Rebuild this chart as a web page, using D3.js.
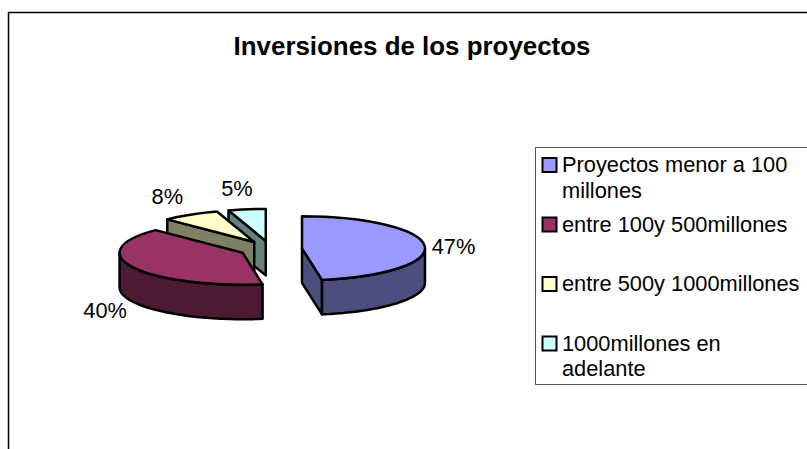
<!DOCTYPE html>
<html>
<head>
<meta charset="utf-8">
<script src="https://d3js.org/d3.v7.min.js"></script>
<style>
  html, body { margin: 0; padding: 0; background: #fff; }
  svg { display: block; font-family: "Liberation Sans", Arial, sans-serif; }
</style>
</head>
<body>
<div id="chart"></div>
<script>
// chart data
const categories = [
  "Proyectos menor a 100 millones",
  "entre 100y 500millones",
  "entre 500y 1000millones",
  "1000millones en adelante"
];
// printed as whole percents, the slice angles show the decimals
const values = [47.4, 40.1, 7.6, 4.9];
const colors = ["#9999FF", "#993366", "#FFFFCC", "#CCFFFF"];
const wallColors = ["#4D4D80", "#4D1A33", "#808066", "#668080"];
const legendLines = [
  ["Proyectos menor a 100", "millones"],
  ["entre 100y 500millones"],
  ["entre 500y 1000millones"],
  ["1000millones en", "adelante"]
];

const width = 807;
const height = 449;

// pie geometry, tilted ellipse
const cx = 270.6;
const cy = 249;
const rx = 123;
const ry = 32;
const depth = 34.5;
const explode = 31.5;

// label offsets from the rim point of each slice
const labelNudge = [[29, 8], [-28, 51], [-23, -11], [-10, -13]];
// legend row centres
const legendRowY = [164, 223.5, 283, 342.5];

const svg = d3
  .select("#chart")
  .append("svg")
  .attr("width", width)
  .attr("height", height);

//frame
svg
  .append("path")
  .attr("d", `M8.5,${height} V12.5 H${width}`)
  .attr("fill", "none")
  .attr("stroke", "#000")
  .attr("stroke-width", 1.5);

svg
  .append("text")
  .attr("x", 412)
  .attr("y", 55)
  .attr("text-anchor", "middle")
  .attr("font-weight", "bold")
  .attr("font-size", 25.9)
  .text("Inversiones de los proyectos");

//slices
const pie = d3.pie().sort(null).value((d) => d);
const slices = pie(values);
const arc = d3.arc().innerRadius(0).outerRadius(rx);

function center(d) {
  const mid = (d.startAngle + d.endAngle) / 2;
  return [
    cx + explode * Math.sin(mid),
    cy - (explode * Math.cos(mid) * ry) / rx
  ];
}

function rimPoint(c, a) {
  return [c[0] + rx * Math.sin(a), c[1] - ry * Math.cos(a)];
}

const line = d3.line();

// draw back to front: the last slices sit behind the first
const drawOrder = d3.range(slices.length).reverse();

drawOrder.forEach(function (i) {
  const d = slices[i];
  const c = center(d);
  const group = svg.append("g");

  const wallAttrs = (sel) =>
    sel
      .attr("fill", wallColors[i])
      .attr("stroke", "#000")
      .attr("stroke-width", 2.5)
      .attr("stroke-linejoin", "round");

  // cut face on the start side, only seen on the back slices
  if (Math.cos(d.startAngle) > 0 && Math.sin(d.startAngle) < 0) {
    const p = rimPoint(c, d.startAngle);
    group
      .append("path")
      .attr("d", line([p, c, [c[0], c[1] + depth], [p[0], p[1] + depth]]) + "Z")
      .call(wallAttrs);
  }

  // cut face on the end side, only seen on the blue slice
  if (d.endAngle < Math.PI && Math.cos(d.endAngle) < 0) {
    const p = rimPoint(c, d.endAngle);
    group
      .append("path")
      .attr("d", line([c, p, [p[0], p[1] + depth], [c[0], c[1] + depth]]) + "Z")
      .call(wallAttrs);
  }

  // outer wall, front half of the ellipse only
  const a0 = Math.max(d.startAngle, Math.PI / 2);
  const a1 = Math.min(d.endAngle, (3 * Math.PI) / 2);
  if (a1 > a0) {
    const top = d3.range(0, 61).map((t) => rimPoint(c, a0 + ((a1 - a0) * t) / 60));
    const bottom = top.map((p) => [p[0], p[1] + depth]).reverse();
    group
      .append("path")
      .attr("d", line(top.concat(bottom)) + "Z")
      .call(wallAttrs);
  }

  // top face
  group
    .append("path")
    .attr("d", arc(d))
    .attr("transform", `translate(${c[0]},${c[1]}) scale(1,${ry / rx})`)
    .attr("fill", colors[i])
    .attr("stroke", "#000")
    .attr("stroke-width", 2.5)
    .attr("stroke-linejoin", "round")
    .attr("vector-effect", "non-scaling-stroke");
});

//percent labels
svg
  .selectAll(".pct")
  .data(slices)
  .enter()
  .append("text")
  .attr("class", "pct")
  .attr("text-anchor", "middle")
  .attr("font-size", 21.8)
  .attr("x", (d, i) => rimPoint(center(d), (d.startAngle + d.endAngle) / 2)[0] + labelNudge[i][0])
  .attr("y", (d, i) => rimPoint(center(d), (d.startAngle + d.endAngle) / 2)[1] + labelNudge[i][1])
  .text((d) => Math.round(d.value) + "%");

//legend box
svg
  .append("rect")
  .attr("x", 535.5)
  .attr("y", 147.5)
  .attr("width", 280)
  .attr("height", 237)
  .attr("fill", "#fff")
  .attr("stroke", "#555")
  .attr("stroke-width", 1);

const rows = svg
  .selectAll(".legendRow")
  .data(categories)
  .enter()
  .append("g")
  .attr("class", "legendRow");

rows
  .append("rect")
  .attr("x", 542.5)
  .attr("y", (d, i) => legendRowY[i] - 6)
  .attr("width", 14)
  .attr("height", 14)
  .attr("fill", (d, i) => colors[i])
  .attr("stroke", "#000")
  .attr("stroke-width", 2);

rows.each(function (d, i) {
  d3.select(this)
    .selectAll("text")
    .data(legendLines[i])
    .enter()
    .append("text")
    .attr("x", 562)
    .attr("y", (t, j) => legendRowY[i] + 8 + j * 25.5)
    .attr("font-size", 21.8)
    .text((t) => t);
});
</script>
</body>
</html>
